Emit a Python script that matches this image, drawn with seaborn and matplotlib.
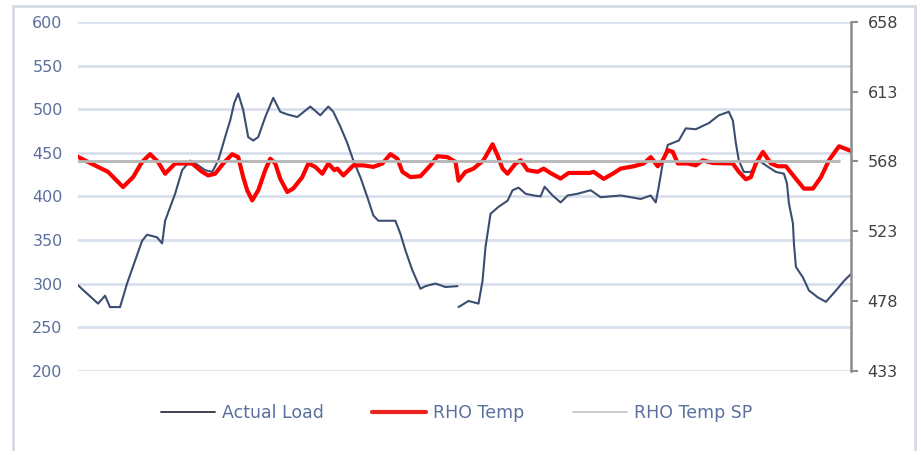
import numpy as np
import pandas as pd
import seaborn as sns
import matplotlib.pyplot as plt
from matplotlib.patches import Rectangle
from matplotlib.lines import Line2D

sns.set_style('white')
plt.rcParams['font.family'] = ['DejaVu Sans']

# Actual Load (left axis), sample index vs value; the trace has a break after t=379
load_t = [0, 20, 27, 32, 42, 49, 64, 69, 79, 84, 87, 97, 104, 112, 117, 127, 134, 140, 149, 152,
          156, 160, 165, 170, 175, 180, 187, 195, 202, 209, 219, 232, 242, 250, 255, 262, 269, 275,
          282, 289, 295, 300, 311, 317, 322, 327, 334, 342, 347, 357, 367, 379,
          380, 390, 400, 404, 407, 412, 420, 429, 434, 440, 447, 455, 462, 466, 474, 482, 489, 499,
          512, 522, 542, 562, 572, 577, 580, 584, 589, 600, 607, 617, 630, 640, 650, 654, 657, 660,
          665, 672, 680, 689, 697, 705, 708, 710, 714, 715, 717, 724, 730, 739, 747, 757, 765, 772]
load = [298, 277, 286, 273, 273, 300, 349, 356, 353, 346, 372, 403, 430, 441, 438, 430, 428, 441, 476, 487,
        507, 518, 499, 468, 464, 468, 491, 513, 497, 494, 491, 503, 493, 503, 497, 480, 461, 441,
        422, 399, 378, 372, 372, 372, 357, 338, 315, 294, 297, 300, 296, 297,
        273, 280, 277, 303, 342, 380, 388, 395, 407, 410, 403, 401, 400, 411, 401, 393, 401, 403,
        407, 399, 401, 397, 401, 393, 411, 438, 459, 464, 478, 477, 484, 493, 497, 487, 461, 441,
        428, 428, 441, 434, 428, 426, 415, 392, 369, 346, 319, 307, 292, 284, 279, 292, 303, 311]
load_seg = [0] * 52 + [1] * (len(load_t) - 52)

# RHO Temp (right axis)
temp_t = [0, 10, 30, 45, 55, 64, 72, 80, 87, 97, 107, 114, 124, 130, 137, 145, 154, 160, 165, 169,
          174, 180, 187, 192, 197, 202, 209, 215, 224, 230, 237, 244, 250, 256, 259, 265, 275, 285,
          295, 304, 312, 319, 324, 332, 342, 352, 359, 369, 377, 380, 387, 395, 405, 414, 419, 424,
          429, 437, 442, 449, 459, 465, 472, 482, 490, 511, 515, 525, 534, 542, 555, 565, 572, 579,
          584, 589, 594, 599, 609, 617, 624, 634, 654, 660, 667, 672, 677, 684, 692, 699, 707, 717,
          725, 734, 742, 750, 760, 772]
temp = [571.0, 567.7, 561.3, 551.5, 557.9, 567.7, 572.7, 567.7, 560.1, 566.7, 566.7, 566.7, 561.3, 559.0,
        560.1, 566.7, 572.7, 570.8, 557.9, 549.4, 542.9, 549.4, 562.4, 569.8, 566.7, 556.8, 548.3, 550.6,
        557.9, 566.7, 564.5, 560.1, 566.7, 562.4, 563.4, 559.0, 565.5, 565.5, 564.5, 566.7, 572.7, 569.8,
        561.3, 557.9, 558.5, 565.5, 571.4, 570.8, 567.7, 555.6, 561.3, 563.4, 568.8, 579.1, 571.9, 563.4,
        560.1, 566.7, 568.8, 562.4, 561.3, 563.4, 560.5, 557.0, 560.6, 560.6, 561.3, 556.8, 560.1, 563.4,
        564.9, 566.7, 570.8, 564.9, 568.8, 575.3, 574.2, 566.7, 566.7, 565.5, 568.8, 567.0, 566.7, 561.3,
        556.5, 557.9, 566.7, 574.2, 566.7, 564.9, 564.9, 556.8, 550.5, 550.5, 557.9, 568.8, 577.8, 574.8]

# RHO Temp SP
sp_t = [0, 760]
sp = [568.5, 568.5]

left_ticks = [200, 250, 300, 350, 400, 450, 500, 550, 600]
right_ticks = [433, 478, 523, 568, 613, 658]

load_df = pd.DataFrame({'t': load_t, 'load': load, 'seg': load_seg})
temp_df = pd.DataFrame({'t': temp_t, 'temp': temp})
sp_df = pd.DataFrame({'t': sp_t, 'sp': sp})

label_blue = '#5b6f9e'
navy = '#3b4d70'

fig = plt.figure(figsize=(9.2, 4.51), dpi=100)
ax = fig.add_axes([78 / 920, 1 - 370.7 / 451, (851 - 78) / 920, (370.7 - 22) / 451])
ax2 = ax.twinx()

sns.lineplot(data=load_df, x='t', y='load', units='seg', estimator=None,
             color=navy, lw=1.5, ax=ax, legend=False)
sns.lineplot(data=temp_df, x='t', y='temp', color='#ff0000', lw=3, ax=ax2, legend=False)
sns.lineplot(data=sp_df, x='t', y='sp', color='#b5b5b5', lw=2, ax=ax2, legend=False, zorder=5)

ax.set_xlim(0, 772)
ax.set_ylim(200, 600)
ax2.set_ylim(433, 658)
ax.set_yticks(left_ticks)
ax2.set_yticks(right_ticks)
ax.set_xticks([])
ax.set_xlabel('')
ax.set_ylabel('')
ax2.set_ylabel('')

ax.grid(axis='y', color='#d9e0ec', lw=2)
ax.grid(axis='x', visible=False)
ax2.grid(False)
ax.set_axisbelow(True)

for s in ax.spines.values():
    s.set_visible(False)
for name, s in ax2.spines.items():
    s.set_visible(name == 'right')
ax2.spines['right'].set_color('#8c8c8c')
ax2.spines['right'].set_linewidth(1.8)

ax.tick_params(axis='y', length=0, pad=11, labelsize=11.5, labelcolor=label_blue)
ax2.tick_params(axis='y', length=5, width=1.5, color='#8c8c8c', pad=7,
                labelsize=11.5, labelcolor='#404040')

# outer frame
fig.patches.append(Rectangle((13 / 920, -0.02), (915 - 13) / 920, 1.02 - 6 / 451,
                             transform=fig.transFigure, fill=False,
                             edgecolor='#d5dbe7', lw=2))

handles = [Line2D([], [], color='#2f3440', lw=1.3),
           Line2D([], [], color='#e8231f', lw=3),
           Line2D([], [], color='#c8c8c8', lw=1.3)]
leg = fig.legend(handles, ['Actual Load', 'RHO Temp', 'RHO Temp SP'], loc='center',
                 bbox_to_anchor=(0.496, 0.084), ncol=3, frameon=False, fontsize=12.5,
                 handlelength=3.1, handletextpad=0.4, columnspacing=2.8)
for txt in leg.get_texts():
    txt.set_color(label_blue)

fig.savefig('out.png', dpi=100)
